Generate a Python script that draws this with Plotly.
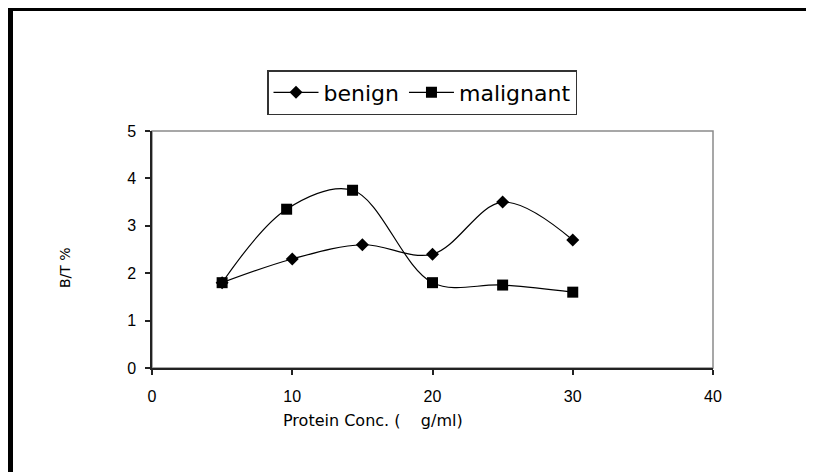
import plotly.graph_objects as go

# Data
benign_x = [5, 10, 15, 20, 25, 30]
benign_y = [1.8, 2.3, 2.6, 2.4, 3.5, 2.7]
malignant_x = [5, 9.6, 14.3, 20, 25, 30]
malignant_y = [1.8, 3.35, 3.75, 1.8, 1.75, 1.6]
x_ticks = [0, 10, 20, 30, 40]
y_ticks = [0, 1, 2, 3, 4, 5]

OFF = 8  # page body margin
W, H = 814 - OFF, 472 - OFF
L, T = 152 - OFF, 131 - OFF
R = W - (713 - OFF)
B = H - (368 - OFF)
pw, ph = W - L - R, H - T - B

def px(xp):
    return (xp - OFF - L) / pw

def py(yp):
    return (H - B - (yp - OFF)) / ph

fig = go.Figure()
fig.add_trace(go.Scatter(
    x=benign_x, y=benign_y, name="benign", mode="lines+markers",
    line=dict(color="black", width=1.2, shape="spline", smoothing=1),
    marker=dict(symbol="diamond", size=10, color="black"),
))
fig.add_trace(go.Scatter(
    x=malignant_x, y=malignant_y, name="malignant", mode="lines+markers",
    line=dict(color="black", width=1.2, shape="spline", smoothing=1),
    marker=dict(symbol="square", size=11, color="black"),
))

tickfont = dict(family="Liberation Sans, Arial, sans-serif", size=16, color="black")
fig.update_layout(
    width=W, height=H,
    margin=dict(l=L, r=R, t=T, b=B),
    paper_bgcolor="white", plot_bgcolor="white",
    showlegend=True,
    legend=dict(
        orientation="h", x=px(422), xanchor="center", y=py(70), yanchor="top",
        font=dict(family="DejaVu Sans, sans-serif", size=22, color="black"),
        bordercolor="#333333", borderwidth=1.5, bgcolor="white",
        itemwidth=45,
    ),
    xaxis=dict(
        range=[0, 40], tickvals=x_ticks, showgrid=False, zeroline=False,
        showline=True, linecolor="#222222", linewidth=1.5,
        ticks="outside", ticklen=5, tickcolor="#222222", tickwidth=1.5,
        tickfont=tickfont, ticklabelstandoff=8,
    ),
    yaxis=dict(
        range=[0, 5], tickvals=y_ticks, showgrid=False, zeroline=False,
        showline=True, linecolor="#222222", linewidth=1.5,
        ticks="outside", ticklen=5, tickcolor="#222222", tickwidth=1.5,
        tickfont=tickfont, ticklabelstandoff=6,
    ),
    shapes=[
        dict(type="rect", xref="paper", yref="paper", x0=0, y0=0, x1=1, y1=1,
             line=dict(color="#8a8a8a", width=1.5), layer="below"),
        dict(type="line", xref="paper", yref="paper", x0=px(OFF), x1=px(814),
             y0=py(9.5), y1=py(9.5), line=dict(color="black", width=3)),
        dict(type="line", xref="paper", yref="paper", x0=px(10.5), x1=px(10.5),
             y0=py(8), y1=py(472), line=dict(color="black", width=5)),
    ],
    annotations=[
        dict(text="B/T %", xref="paper", yref="paper", x=px(65), y=py(268),
             showarrow=False, textangle=-90, xanchor="center", yanchor="middle",
             font=dict(family="DejaVu Sans, sans-serif", size=14, color="black")),
        dict(text="Protein Conc. (    g/ml)", xref="paper", yref="paper",
             x=px(373), y=py(420), showarrow=False, xanchor="center", yanchor="middle",
             font=dict(family="DejaVu Sans, sans-serif", size=16, color="black")),
    ],
)

fig.write_html("out.html")
